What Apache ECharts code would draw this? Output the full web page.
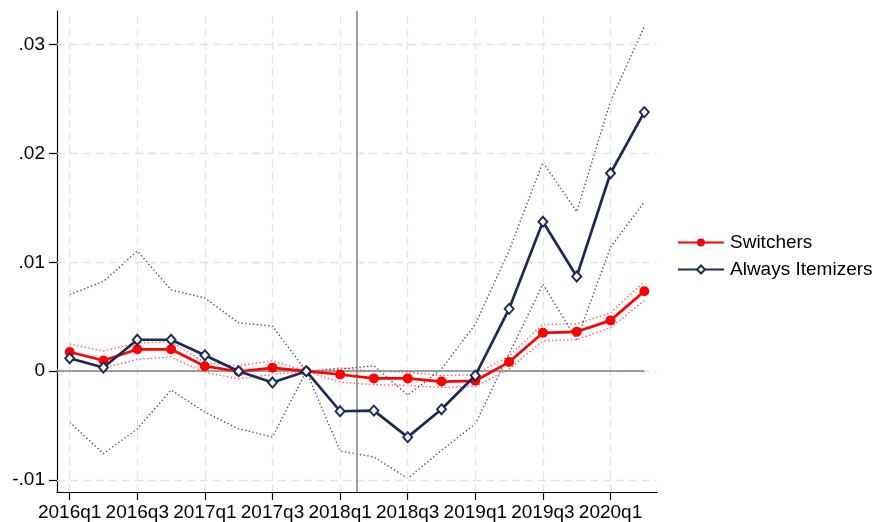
<!DOCTYPE html>
<html>
<head>
<meta charset="utf-8">
<script src="https://cdn.jsdelivr.net/npm/echarts@6/dist/echarts.min.js"></script>
<style>
  html, body { margin: 0; padding: 0; background: #fff; overflow: hidden; }
  #chart { width: 878px; height: 522px; }
</style>
</head>
<body>
<div id="chart"></div>
<script>
// Event-study quarters
const quarters = ['2016q1','2016q2','2016q3','2016q4','2017q1','2017q2','2017q3','2017q4',
  '2018q1','2018q2','2018q3','2018q4','2019q1','2019q2','2019q3','2019q4','2020q1','2020q2'];

// Point estimates
const switchers = [0.00177, 0.00098, 0.00201, 0.00201, 0.00046, -0.00003, 0.00031, 0,
  -0.0003, -0.00066, -0.00066, -0.00095, -0.00088, 0.00084, 0.00353, 0.00362, 0.00467, 0.00734];
const itemizers = [0.00119, 0.00034, 0.00289, 0.00289, 0.00146, 0, -0.00104, 0,
  -0.00368, -0.00362, -0.00606, -0.0035, -0.0004, 0.00573, 0.01374, 0.0087, 0.01819, 0.02381];

// Confidence bounds
const switchersUpper = [0.0025, 0.00186, 0.0026, 0.0027, 0.0008, 0.0005, 0.00095, 0,
  0.0003, 0.0, -0.0001, -0.0004, -0.0003, 0.0014, 0.0043, 0.00435, 0.00536, 0.00825];
const switchersLower = [0.0011, 0.00027, 0.0011, 0.0013, -0.0001, -0.0007, -0.0003, 0,
  -0.001, -0.00124, -0.0013, -0.0015, -0.0014, 0.0002, 0.0028, 0.0029, 0.004, 0.0065];
const itemizersUpper = [0.00703, 0.00825, 0.01104, 0.00748, 0.00672, 0.00444, 0.00414, 0,
  0.0002, 0.0005, -0.0022, 0.0002, 0.0043, 0.0111, 0.0192, 0.01465, 0.0248, 0.0317];
const itemizersLower = [-0.00469, -0.00758, -0.0053, -0.00173, -0.00377, -0.0053, -0.00605, 0,
  -0.00733, -0.00788, -0.00985, -0.00727, -0.00484, 0.0016, 0.008, 0.0029, 0.0114, 0.01555];

// Axis ticks
const xTickIdx = [0, 2, 4, 6, 8, 10, 12, 14, 16];
const yTickValues = [-0.01, 0, 0.01, 0.02, 0.03];
const yTickLabels = ['-.01', '0', '.01', '.02', '.03'];

// Policy date marker (between 2018q1 and 2018q2)
const policyLine = 8.5;

const RED = '#ff0000';
const NAVY = '#1c2a56';
const FONT = 'Liberation Sans';

const X_MIN = -0.375, X_MAX = 17.375;
const Y_MIN = -0.0111, Y_MAX = 0.0331;

const pairs = arr => arr.map((v, i) => [i, v]);

const gridStyle = { color: '#e4e4e4', width: 1.3, type: [8, 5] };

const ciSeries = (name, data, color, opacity) => ({
  name, type: 'line', data: pairs(data), symbol: 'none', silent: true,
  lineStyle: { color, width: 1.4, type: [1.4, 2.4], opacity },
  z: 3, animation: false
});

const option = {
  animation: false,
  backgroundColor: '#fff',
  textStyle: { fontFamily: FONT },
  grid: { left: 57, right: 221, top: 11, bottom: 27, containLabel: false },
  legend: {
    data: ['Switchers', 'Always Itemizers'],
    orient: 'vertical',
    left: 672, top: 228,
    itemWidth: 46, itemHeight: 10, itemGap: 8,
    textStyle: { fontSize: 19, color: '#000', fontFamily: FONT, padding: [0, 0, 0, 1] }
  },
  xAxis: {
    type: 'value', min: X_MIN, max: X_MAX,
    axisLine: { onZero: false, lineStyle: { color: '#000', width: 1.2 } },
    axisTick: { customValues: xTickIdx, length: 8, lineStyle: { color: '#000', width: 1.2 } },
    axisLabel: {
      customValues: xTickIdx, margin: 11, fontSize: 19, color: '#000', fontFamily: FONT,
      formatter: v => quarters[Math.round(v)]
    },
    splitLine: { show: false }
  },
  yAxis: {
    type: 'value', min: Y_MIN, max: Y_MAX,
    axisLine: { show: true, onZero: false, lineStyle: { color: '#000', width: 1.2 } },
    axisTick: { show: true, customValues: yTickValues, length: 8, lineStyle: { color: '#000', width: 1.2 } },
    axisLabel: {
      customValues: yTickValues, margin: 12, fontSize: 19, color: '#000', fontFamily: FONT,
      formatter: v => {
        let best = 0;
        yTickValues.forEach((t, i) => { if (Math.abs(t - v) < Math.abs(yTickValues[best] - v)) best = i; });
        return yTickLabels[best];
      }
    },
    splitLine: { show: false }
  },
  series: [
    {
      // background guides: dashed grid
      name: 'guides', type: 'line', data: [], silent: true, z: 1,
      markLine: {
        silent: true, symbol: ['none', 'none'], label: { show: false },
        animation: false,
        data: [
          ...xTickIdx.map(x => ({ xAxis: x, lineStyle: gridStyle })),
          ...yTickValues.map(y => ({ yAxis: y, lineStyle: gridStyle }))
        ]
      }
    },
    {
      // zero line and policy date line
      name: 'refs', type: 'line', data: [], silent: true, z: 2,
      markLine: {
        silent: true, symbol: ['none', 'none'], label: { show: false },
        animation: false,
        data: [
          [{ coord: [X_MIN, 0], lineStyle: { color: '#808080', width: 1.5, type: 'solid' } },
           { coord: [quarters.length - 1, 0] }],
          { xAxis: policyLine, lineStyle: { color: '#808080', width: 1.5, type: 'solid' } }
        ]
      }
    },
    ciSeries('itemizersUpper', itemizersUpper, NAVY, 0.8),
    ciSeries('itemizersLower', itemizersLower, NAVY, 0.8),
    ciSeries('switchersUpper', switchersUpper, RED, 0.65),
    ciSeries('switchersLower', switchersLower, RED, 0.65),
    {
      name: 'Switchers', type: 'line', data: pairs(switchers),
      symbol: 'circle', symbolSize: 10,
      itemStyle: { color: RED, borderWidth: 0 },
      lineStyle: { color: RED, width: 2.7 },
      z: 5
    },
    {
      name: 'Always Itemizers', type: 'line', data: pairs(itemizers),
      symbol: 'diamond', symbolSize: [9, 10],
      itemStyle: { color: '#ffffff', borderColor: NAVY, borderWidth: 1.9 },
      lineStyle: { color: NAVY, width: 2.7 },
      z: 6
    }
  ]
};

const chart = echarts.init(document.getElementById('chart'), null, { renderer: 'canvas' });
chart.setOption(option);
</script>
</body>
</html>
